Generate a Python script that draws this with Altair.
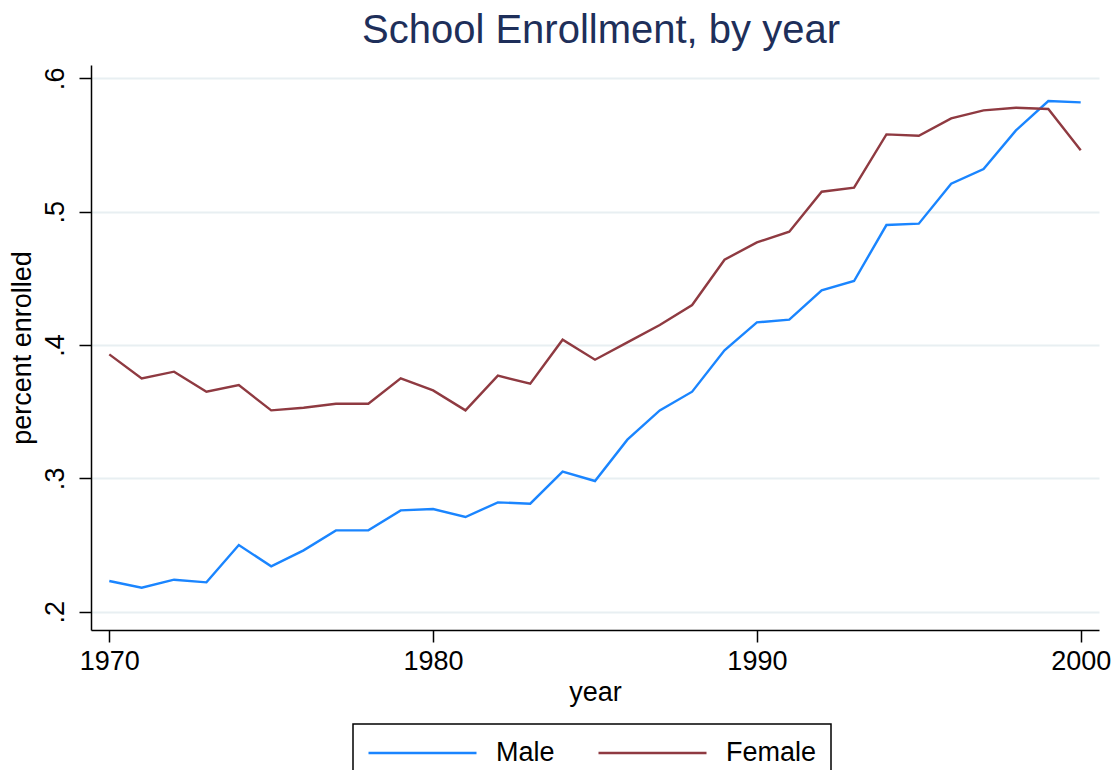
import altair as alt
import pandas as pd

years = list(range(1970, 2001))
male = [0.223, 0.218, 0.224, 0.222, 0.250, 0.234, 0.246, 0.261, 0.261, 0.276,
        0.277, 0.271, 0.282, 0.281, 0.305, 0.298, 0.329, 0.351, 0.365, 0.396,
        0.417, 0.419, 0.441, 0.448, 0.490, 0.491, 0.521, 0.532, 0.561, 0.583,
        0.582]
female = [0.393, 0.375, 0.380, 0.365, 0.370, 0.351, 0.353, 0.356, 0.356, 0.375,
          0.366, 0.351, 0.377, 0.371, 0.404, 0.389, 0.402, 0.415, 0.430, 0.464,
          0.477, 0.485, 0.515, 0.518, 0.558, 0.557, 0.570, 0.576, 0.578, 0.577,
          0.546]
series = ["Male", "Female"]
colors = ["#1a85ff", "#8f3a41"]
x_ticks = [1970, 1980, 1990, 2000]
y_ticks = [0.2, 0.3, 0.4, 0.5, 0.6]

rows = []
for name, vals in zip(series, [male, female]):
    for yr, v in zip(years, vals):
        rows.append({"year": yr, "value": v, "sex": name})
df = pd.DataFrame(rows)

FONT = "Liberation Sans"

chart = alt.Chart(df).mark_line(strokeWidth=2.4).encode(
    x=alt.X("year:Q",
            scale=alt.Scale(domain=[1969.435, 2000.565], nice=False, zero=False),
            axis=alt.Axis(values=x_ticks, format="d", title="year", grid=False,
                          labelFontSize=27, titleFontSize=27, tickSize=12,
                          labelPadding=6, titlePadding=5,
                          domainColor="black", tickColor="black",
                          domainWidth=1.5, tickWidth=1.5,
                          labelColor="black", titleColor="black",
                          labelFont=FONT, titleFont=FONT,
                          titleFontWeight="normal", labelFlush=False)),
    y=alt.Y("value:Q",
            scale=alt.Scale(domain=[0.18627, 0.61002], nice=False, zero=False),
            axis=alt.Axis(values=y_ticks, title="percent enrolled",
                          labelExpr="'.' + format(datum.value * 10, 'd')",
                          labelAngle=270, labelFontSize=27, titleFontSize=27,
                          tickSize=12, labelPadding=10, titlePadding=5,
                          grid=True, gridColor="#e8eff2", gridWidth=2,
                          domainColor="black", tickColor="black",
                          domainWidth=1.5, tickWidth=1.5,
                          labelColor="black", titleColor="black",
                          labelFont=FONT, titleFont=FONT,
                          titleFontWeight="normal", labelFlush=False)),
    color=alt.Color("sex:N",
                    scale=alt.Scale(domain=series, range=colors),
                    sort=series,
                    legend=alt.Legend(title=None, orient="none",
                                      legendX=262, legendY=659,
                                      direction="horizontal",
                                      symbolType="stroke", symbolSize=11664,
                                      symbolStrokeWidth=2.4, clipHeight=30,
                                      labelFontSize=27, labelFont=FONT,
                                      labelColor="black", labelOffset=18,
                                      columnPadding=42, padding=14,
                                      strokeColor="black", fillColor="white",
                                      cornerRadius=0)),
).properties(
    width=1008,
    height=565,
    title=alt.TitleParams("School Enrollment, by year", fontSize=40,
                          font=FONT, fontWeight="normal", color="#1e2f5a",
                          anchor="middle", offset=14, dx=6),
    padding={"left": 83, "top": 57, "right": 13, "bottom": 140},
    autosize=alt.AutoSizeParams(type="none"),
).configure_view(stroke=None).configure_legend(strokeWidth=1.5)

chart.save("out.html", embed_options={"renderer": "svg", "actions": False})
